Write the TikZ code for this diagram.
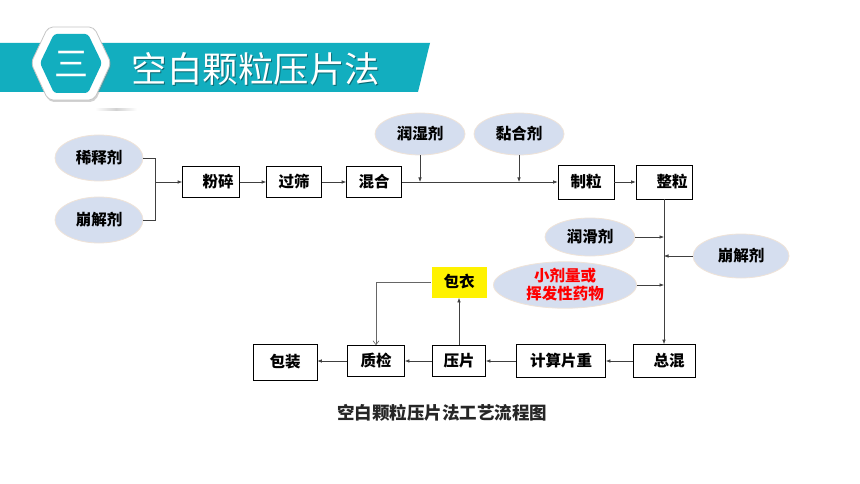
\documentclass[tikz,border=0pt]{standalone}
\usepackage{fontspec}
\newfontfamily\cjk{Noto Sans CJK SC}
\usetikzlibrary{arrows.meta,shapes.geometric,shadows}
\definecolor{teal1}{HTML}{12AEBF}
\definecolor{ellfill}{HTML}{D5DEEF}
\definecolor{ellborder}{HTML}{EFE3D8}
\definecolor{linec}{HTML}{404040}
\begin{document}
\begin{tikzpicture}[x=1pt,y=-1pt,
  lbl/.style={font=\cjk\bfseries\fontsize{15.5}{18}\selectfont},
  box/.style={lbl, draw=black, line width=0.6pt, fill=white, minimum height=31pt, inner sep=2pt},
  ell/.style={lbl, ellipse, fill=ellfill, draw=ellborder, line width=0.8pt, inner sep=0pt},
  conn/.style={draw=linec, line width=0.6pt},
  arr/.style={conn, -{Latex[length=4.5pt,width=3.5pt]}},
  openarr/.style={draw=linec!80, line width=0.6pt, -{Straight Barb[length=4pt,width=6pt]}},
  ]
\useasboundingbox (0,0) rectangle (860,484);
\fill[white] (0,0) rectangle (860,484);
% header banner
\fill[teal1] (0,43) -- (430,43) -- (418,92) -- (0,92) -- cycle;
\shade[left color=white, right color=white, middle color=gray!35] (95,109) rectangle (137,111);
\filldraw[fill=white, draw=gray!45, line width=0.8pt, rounded corners=5pt, drop shadow={shadow xshift=1pt, shadow yshift=-2pt, opacity=0.35}]
  (31,63) -- (48,27) -- (94,27) -- (111,63) -- (94,100) -- (48,100) -- cycle;
\fill[teal1, rounded corners=3pt] (40,63) -- (54,34) -- (88,34) -- (102,63) -- (88,93) -- (54,93) -- cycle;
\node[text=white, font=\cjk\fontsize{34}{36}\selectfont] (num) at (71,64) {三};
\node[anchor=west, text=black!40!teal1, font=\cjk\fontsize{35.5}{38}\selectfont] (titlesh) at (129,70) {空白颗粒压片法};
\node[anchor=west, text=white, font=\cjk\fontsize{35.5}{38}\selectfont] (title) at (128,69) {空白颗粒压片法};
% nodes
\node[ell, minimum width=88pt, minimum height=46pt] (xs) at (99,158) {稀释剂};
\node[ell, minimum width=88pt, minimum height=46pt] (bj1) at (99,220) {崩解剂};
\node[box, minimum width=57pt] (fs) at (211,182) {\hspace*{14pt}粉碎};
\node[box, minimum width=55pt] (gs) at (294,182) {过筛};
\node[box, minimum width=55pt] (hh) at (374,182) {混合};
\node[ell, minimum width=90pt, minimum height=42pt] (rs) at (420,134) {润湿剂};
\node[ell, minimum width=90pt, minimum height=42pt] (nh) at (519,134) {黏合剂};
\node[box, minimum width=56pt, minimum height=34pt] (zl) at (586,182) {制粒};
\node[box, minimum width=56pt, minimum height=34pt] (zhl) at (664,182) {\hspace*{16pt}整粒};
\node[ell, minimum width=90pt, minimum height=38pt] (rh) at (590,237) {润滑剂};
\node[ell, minimum width=96pt, minimum height=44pt] (bj2) at (741,256) {崩解剂};
\node[ell, minimum width=143pt, minimum height=46pt, text=red, align=center] (xj) at (565,285) {小剂量或\\挥发性药物};
\node[box, fill=yellow, draw=none, minimum width=55pt] (by) at (459,282) {包衣};
\node[box, minimum width=64pt, minimum height=36pt] (bz) at (285,362) {包装};
\node[box, minimum width=57pt] (zj) at (376,361) {质检};
\node[box, minimum width=53pt] (yp) at (459,361) {压片};
\node[box, minimum width=89pt, minimum height=33pt] (js) at (561,361) {计算片重};
\node[box, minimum width=62pt, minimum height=33pt] (zh) at (664,361) {\hspace*{10pt}总混};
\node[font=\cjk\bfseries\fontsize{17.5}{20}\selectfont, text=black!85] (cap) at (442,413) {空白颗粒压片法工艺流程图};
% connectors
\coordinate (j) at (155,182);
\draw[conn] (xs.east) -| (j);
\draw[conn] (bj1.east) -| (j);
\draw[arr] (j) -- (fs.west);
\draw[arr] (fs.east) -- (gs.west);
\draw[arr] (gs.east) -- (hh.west);
\draw[arr] (hh.east) -- (zl.west);
\draw[arr] (rs.south) -- (rs.south |- hh.east);
\draw[arr] (nh.south) -- (nh.south |- hh.east);
\draw[arr] (zl.east) -- (zhl.west);
\draw[arr] (zhl.south) -- (zh.north);
\draw[arr] (rh.east) -- (rh.east -| zhl.south);
\draw[arr] (bj2.west) -- (bj2.west -| zhl.south);
\draw[arr] (xj.east) -- (xj.east -| zhl.south);
\draw[arr] (zh.west) -- (js.east);
\draw[arr] (js.west) -- (yp.east);
\draw[arr] (yp.west) -- (zj.east);
\draw[arr] (zj.west) -- (zj.west -| bz.east);
\draw[arr] (yp.north) -- (by.south);
\draw[openarr] (by.west) -| (zj.north);
\end{tikzpicture}
\end{document}
